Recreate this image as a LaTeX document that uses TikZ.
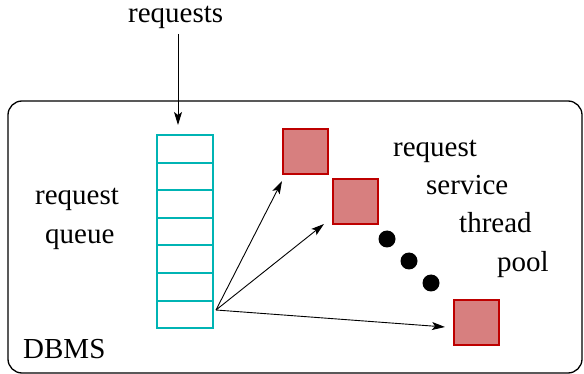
\documentclass[tikz,border=0pt]{standalone}
\usepackage{fontspec}
\setmainfont{Liberation Serif}
\usetikzlibrary{arrows.meta,calc}
\definecolor{queuecol}{RGB}{0,180,180}
\definecolor{thrfill}{RGB}{215,127,127}
\definecolor{thrdraw}{RGB}{190,0,0}
\begin{document}
\begin{tikzpicture}[x=1pt,y=-1pt,
  every node/.style={font=\fontsize{29}{30}\selectfont, inner sep=0pt},
  lbl/.style={anchor=base west},
  cell/.style={draw=queuecol, line width=2pt, minimum width=56pt, minimum height=27.6pt, anchor=north west},
  thread/.style={draw=thrdraw, fill=thrfill, line width=1.6pt, minimum size=45pt, anchor=north west},
  arr/.style={line width=0.9pt, -{Stealth[length=13pt,width=8pt,inset=3pt]}},
  dot/.style={fill=black, circle, minimum size=17pt}]
\useasboundingbox (0,0) rectangle (584,374);

% DBMS frame
\draw[line width=1.3pt, rounded corners=14pt] (8,101) rectangle (582,373);
\node[lbl] (dbms) at (23,358) {DBMS};

% incoming requests
\node[lbl] (req) at (128,23) {requests};

% request queue
\foreach \i in {0,...,6} {
  \node[cell] (q\i) at (156,{134+27.6*\i}) {};
}
\node[lbl] (rq1) at (35,205) {request};
\node[lbl] (rq2) at (45,244) {queue};
\coordinate (reqin) at (178,34);
\draw[arr] (reqin) -- (reqin |- q0.north) [shorten >=9pt];

% thread pool
\node[thread] (t1) at (282,128) {};
\node[thread] (t2) at (332,178) {};
\node[thread] (t3) at (453,299) {};
\node[dot] (d1) at (387,239) {};
\node[dot] (d2) at (409,261) {};
\node[dot] (d3) at (431,283) {};

\node[lbl] (p1) at (393,157) {request};
\node[lbl] (p2) at (426,195) {service};
\node[lbl] (p3) at (459,233) {thread};
\node[lbl] (p4) at (497,272) {pool};

% dispatch arrows
\coordinate (fan) at (216,310);
\coordinate (a1) at (282,181);
\coordinate (a2) at (324,224);
\coordinate (a3) at (445,327);
\draw[arr] (fan) -- (a1);
\draw[arr] (fan) -- (a2);
\draw[arr] (fan) -- (a3);
\end{tikzpicture}
\end{document}
